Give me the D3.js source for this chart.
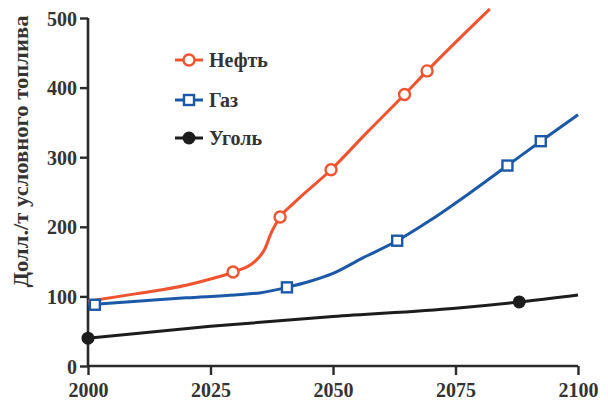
<!DOCTYPE html>
<html><head><meta charset="utf-8">
<script src="https://cdn.jsdelivr.net/npm/d3@7"></script>
<style>body{margin:0;background:#fff}svg{display:block}</style>
</head><body>
<svg id="c" width="608" height="403"></svg>
<script>
const xTicks = [2000, 2025, 2050, 2075, 2100];
const yTicks = [0, 100, 200, 300, 400, 500];
const seriesNames = ["Нефть", "Газ", "Уголь"];
const yLabel = "Долл./т условного топлива";

const oilYears  = [2000, 2010, 2020, 2025, 2029.6, 2034, 2036, 2037.5, 2039.2, 2042, 2049.6, 2057, 2064.6, 2069.2, 2075, 2082];
const oilValues = [93, 104, 116, 125, 135, 150, 167, 193, 214, 234, 282, 336, 390, 424, 465, 513];
const oilMarkYears  = [2029.6, 2039.2, 2049.6, 2064.6, 2069.2];
const oilMarkValues = [135, 214, 282, 390, 424];

const gasYears  = [2000, 2010, 2020, 2030, 2035, 2040.6, 2045, 2050, 2056, 2063.1, 2070, 2078, 2085.6, 2092.4, 2100];
const gasValues = [88, 93, 98, 102, 105, 113, 121, 133, 155, 180, 210, 249, 288, 323, 361];
const gasMarkYears  = [2001.4, 2040.6, 2063.1, 2085.6, 2092.4];
const gasMarkValues = [88, 113, 180, 288, 323];

const coalYears  = [2000, 2025, 2050, 2075, 2088, 2100];
const coalValues = [40, 57, 71, 83, 92, 102];
const coalMarkYears  = [2000, 2088];
const coalMarkValues = [40, 92];

const colors = ["#f0532f", "#1b59a8", "#1c1c1c"];

const svg = d3.select("#c");
const x = d3.scaleLinear().domain([2000, 2100]).range([88, 578]);
const y = d3.scaleLinear().domain([0, 500]).range([366, 18]);
const font = "'Liberation Serif','Times New Roman',serif";
const axisColor = "#2a2a2a";

// axes
const gx = svg.append("g").attr("transform", `translate(0,${y(0)})`)
  .call(d3.axisBottom(x).tickValues(xTicks).tickSize(9).tickPadding(8).tickFormat(d3.format("d")));
const gy = svg.append("g").attr("transform", `translate(${x(2000)},0)`)
  .call(d3.axisLeft(y).tickValues(yTicks).tickSize(8).tickPadding(3));
[gx, gy].forEach(g => {
  g.select(".domain").attr("stroke", axisColor).attr("stroke-width", 2.6);
  g.selectAll(".tick line").attr("stroke", axisColor).attr("stroke-width", 2.4);
  g.selectAll(".tick text").attr("fill", "#333").style("font-family", font)
    .style("font-weight", "bold").style("font-size", "20px");
});
gx.selectAll(".tick text").attr("dy", "0.72em");
gy.selectAll(".tick text").attr("dy", "0.35em");
gx.select(".domain").attr("d", `M${x(2000)},0H${x(2100)}`);
gy.select(".domain").attr("d", `M0,${y(0)}V${y(500)}`);

svg.append("text")
  .attr("transform", `translate(28,${(15 + 288) / 2}) rotate(-90)`)
  .attr("text-anchor", "middle")
  .attr("textLength", 272).attr("lengthAdjust", "spacingAndGlyphs")
  .style("font-family", font).style("font-weight", "bold").style("font-size", "20px")
  .attr("fill", "#333")
  .text(yLabel);

const line = d3.line().x(d => x(d[0])).y(d => y(d[1])).curve(d3.curveMonotoneX);
const zip = (a, b) => a.map((v, i) => [v, b[i]]);

const series = [
  {pts: zip(oilYears, oilValues), marks: zip(oilMarkYears, oilMarkValues), c: colors[0], m: "circle"},
  {pts: zip(gasYears, gasValues), marks: zip(gasMarkYears, gasMarkValues), c: colors[1], m: "square"},
  {pts: zip(coalYears, coalValues), marks: zip(coalMarkYears, coalMarkValues), c: colors[2], m: "dot"}
];

function marker(g, type, c, cx, cy) {
  if (type === "circle") {
    g.append("circle").attr("cx", cx).attr("cy", cy).attr("r", 5.5)
      .attr("fill", "#fff").attr("stroke", c).attr("stroke-width", 2.4);
  } else if (type === "square") {
    g.append("rect").attr("x", cx - 5).attr("y", cy - 5).attr("width", 10).attr("height", 10)
      .attr("fill", "#fff").attr("stroke", c).attr("stroke-width", 2.4);
  } else {
    g.append("circle").attr("cx", cx).attr("cy", cy).attr("r", 6.5).attr("fill", c);
  }
}

series.forEach(s => {
  svg.append("path").datum(s.pts).attr("d", line)
    .attr("fill", "none").attr("stroke", s.c).attr("stroke-width", 3).attr("stroke-linejoin", "round");
  const g = svg.append("g");
  s.marks.forEach(p => marker(g, s.m, s.c, x(p[0]), y(p[1])));
});

// legend
const legY = [60, 100, 138];
seriesNames.forEach((name, i) => {
  const g = svg.append("g");
  g.append("line").attr("x1", 175).attr("x2", 203).attr("y1", legY[i]).attr("y2", legY[i])
    .attr("stroke", colors[i]).attr("stroke-width", 3);
  marker(g, series[i].m, colors[i], 189, legY[i]);
  g.append("text").attr("x", 209).attr("y", legY[i]).attr("dy", "0.35em")
    .style("font-family", font).style("font-weight", "bold").style("font-size", "20px")
    .attr("fill", "#333").text(name);
});
</script>
</body></html>
